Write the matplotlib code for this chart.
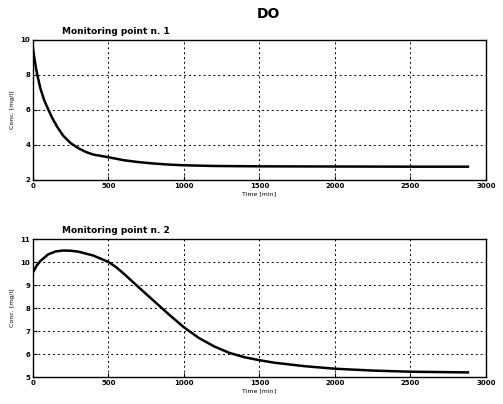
import matplotlib
matplotlib.use("Agg")
import matplotlib.pyplot as plt

# monitoring point 1
t1 = [0, 10, 20, 30, 50, 75, 100, 130, 160, 200, 250, 300, 350, 400, 500,
      600, 700, 800, 900, 1000, 1200, 1500, 2000, 2500, 2880]
do1 = [9.5, 8.92, 8.38, 7.95, 7.2, 6.54, 6.05, 5.5, 5.04, 4.53, 4.1, 3.82,
       3.6, 3.45, 3.3, 3.13, 3.02, 2.94, 2.88, 2.84, 2.8, 2.78, 2.77, 2.76, 2.76]

# monitoring point 2
t2 = [0, 25, 50, 100, 150, 200, 250, 300, 400, 500, 550, 600, 700, 800, 900,
      1000, 1100, 1200, 1300, 1400, 1500, 1600, 1800, 2000, 2250, 2500, 2880]
do2 = [9.55, 9.85, 10.05, 10.33, 10.46, 10.5, 10.49, 10.45, 10.28, 10.0,
       9.78, 9.5, 8.9, 8.31, 7.72, 7.16, 6.69, 6.33, 6.05, 5.86, 5.73, 5.62,
       5.47, 5.36, 5.28, 5.23, 5.2]

xticks = [0, 500, 1000, 1500, 2000, 2500, 3000]
yticks1 = [2, 4, 6, 8, 10]
yticks2 = [5, 6, 7, 8, 9, 10, 11]

fig = plt.figure(figsize=(5.03, 4.04), dpi=100)
fig.text(0.533, 0.965, "DO", ha="center", va="center", fontsize=10, fontweight="bold")

panels = [
    ([0.0656, 0.5545, 0.9006, 0.3465], t1, do1, (2, 10), yticks1, "Monitoring point n. 1"),
    ([0.0656, 0.0668, 0.9006, 0.3416], t2, do2, (5, 11), yticks2, "Monitoring point n. 2"),
]

for rect, t, v, ylim, yt, name in panels:
    ax = fig.add_axes(rect)
    ax.plot(t, v, color="black", linewidth=1.8)
    ax.set_xlim(0, 3000)
    ax.set_ylim(*ylim)
    ax.set_xticks(xticks)
    ax.set_yticks(yt)
    ax.tick_params(direction="in", length=3, width=0.8, labelsize=5, pad=2)
    for lab in ax.get_xticklabels() + ax.get_yticklabels():
        lab.set_fontweight("bold")
    ax.grid(True, color="black", linestyle=(0, (2, 3)), linewidth=0.7)
    for s in ax.spines.values():
        s.set_linewidth(1.0)
    ax.set_xlabel("Time [min]", fontsize=4.5, labelpad=2)
    ax.set_ylabel("Conc. [mg/l]", fontsize=4.5, labelpad=4)
    ax.text(0.064, 1.03, name, transform=ax.transAxes, fontsize=6.5,
            fontweight="bold", ha="left", va="bottom")

fig.savefig("out.png", dpi=100)
